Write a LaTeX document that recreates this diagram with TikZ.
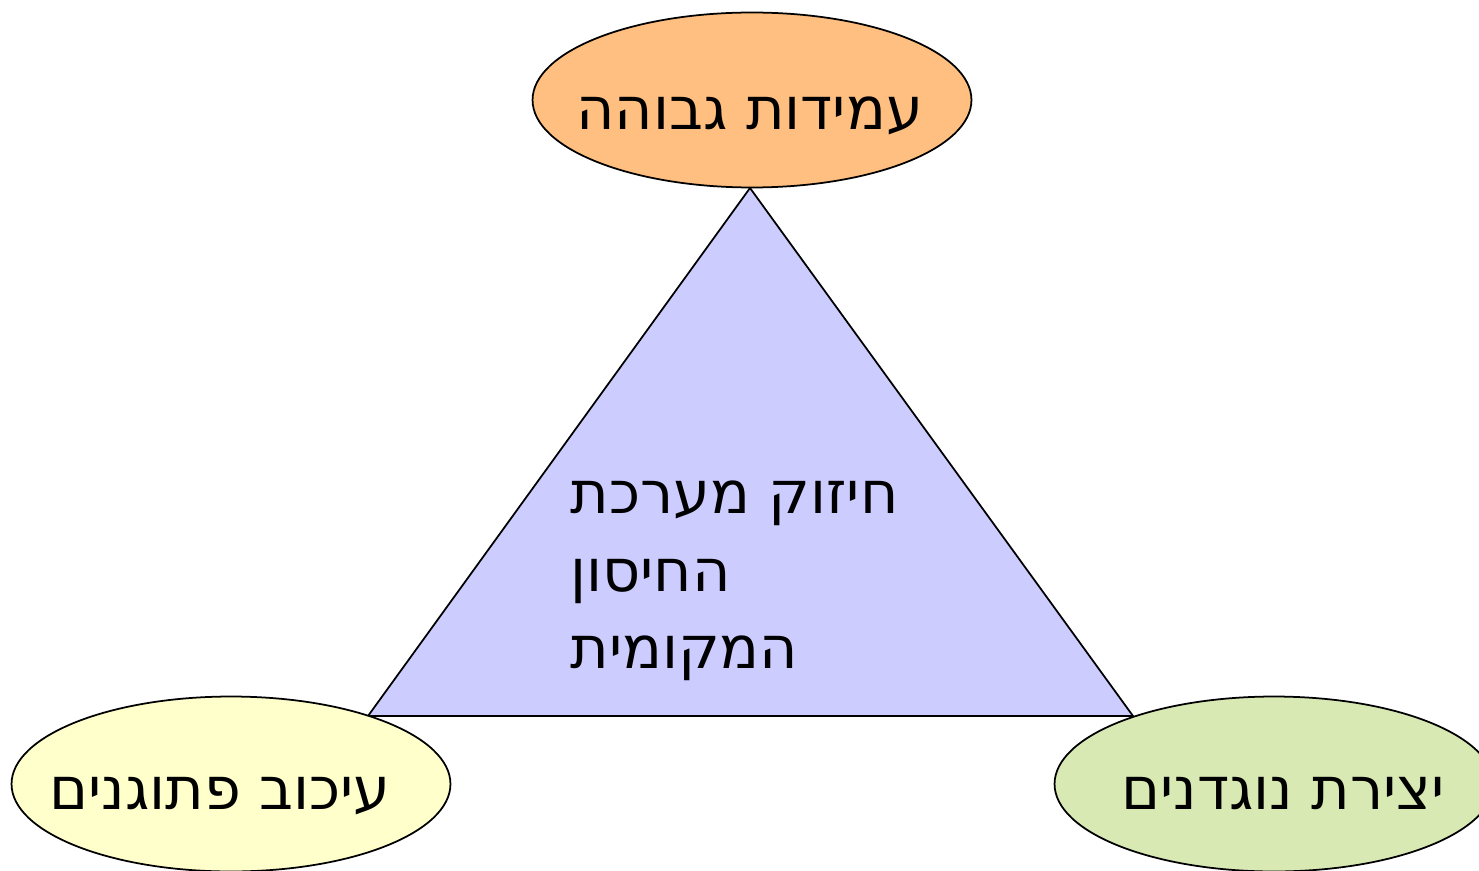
\documentclass[tikz,border=0pt]{standalone}
\usepackage{fontspec}
\usetikzlibrary{shapes.geometric}
\newfontfamily\hebfont[Script=Hebrew]{DejaVu Sans}
\TeXXeTstate=1
\definecolor{topfill}{HTML}{FFBF80}
\definecolor{trifill}{HTML}{CCCCFF}
\definecolor{leftfill}{HTML}{FFFFCC}
\definecolor{rightfill}{HTML}{D8E9B4}
\tikzset{
  goal/.style={ellipse, draw=black, line width=1pt, minimum width=8.78cm,
    minimum height=3.5cm, inner sep=0pt},
  heb/.style={anchor=base west, inner sep=0pt, font=\hebfont\fontsize{33.5}{40}\selectfont}
}
\begin{document}
\begin{tikzpicture}[x=0.02cm, y=-0.02cm]
  \useasboundingbox (0,0) rectangle (1479,871);
  \clip (0,0) rectangle (1479,871);
  % central triangle
  \coordinate (apex) at (750,188);
  \coordinate (bl) at (368,716);
  \coordinate (br) at (1133,716);
  \filldraw[fill=trifill, draw=black, line width=1pt] (apex) -- (bl) -- (br) -- cycle;
  % text inside the triangle
  \node[heb] (c1) at (570,513) {\beginR חיזוק מערכת\endR};
  \node[heb] (c2) at (570,591) {\beginR החיסון\endR};
  \node[heb] (c3) at (570,668) {\beginR המקומית\endR};
  % the three surrounding goals
  \node[goal, fill=topfill] (top) at (752,100) {};
  \node[goal, fill=leftfill] (left) at (231,784) {};
  \node[goal, fill=rightfill] (right) at (1274,784) {};
  \node[heb] (toptext) at (576,130) {\beginR עמידות גבוהה\endR};
  \node[heb] (lefttext) at (49,809) {\beginR עיכוב פתוגנים\endR};
  \node[heb] (righttext) at (1121,809) {\beginR יצירת נוגדנים\endR};
\end{tikzpicture}
\end{document}
